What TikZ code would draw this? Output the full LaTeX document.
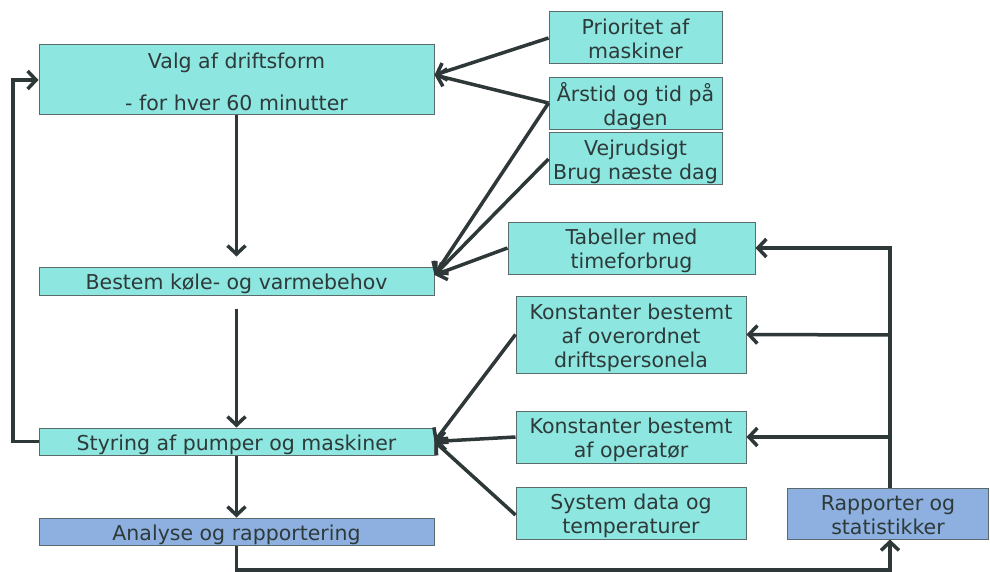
\documentclass[tikz,border=0pt]{standalone}
\usepackage{fontspec}
\setmainfont{DejaVu Sans}
\usetikzlibrary{arrows.meta}
\definecolor{teal1}{HTML}{8DE6DF}
\definecolor{blue1}{HTML}{8DB0E0}
\definecolor{bord}{HTML}{5B6B6B}
\definecolor{ink}{HTML}{2E3838}
\definecolor{txt}{HTML}{2E3A3A}
\newcommand{\lb}[1]{\raisebox{-4pt}[\height][\depth]{\begin{tabular}{@{}c@{}}#1\end{tabular}}}
\tikzset{
  box/.style={draw=bord, line width=1pt, fill=teal1, inner sep=0pt,
    text=txt, font=\fontsize{20.5}{24}\selectfont},
  bbox/.style={box, fill=blue1},
  lbl/.style={text=txt, font=\fontsize{20.5}{24}\selectfont, inner sep=0pt},
  conn/.style={draw=ink, line width=3.5pt, -{Straight Barb[length=8.5pt,width=18pt]}},
}
\begin{document}
\begin{tikzpicture}[x=1pt,y=-1pt]
\useasboundingbox (0,0) rectangle (990,572);
\fill[white] (0,0) rectangle (990,572);
% left column
\node[box, minimum width=395pt, minimum height=70pt] (valg) at (236.5,80) {};
\node[lbl] (valg1) at (236.5,63) {Valg af driftsform};
\node[lbl] (valg2) at (236.5,103) {- for hver 60 minutter};
\node[box, minimum width=395pt, minimum height=28pt] (bestem) at (236.5,281) {\lb{Bestem køle- og varmebehov}};
\node[box, minimum width=395pt, minimum height=27pt] (styr) at (236.5,441.5) {\lb{Styring af pumper og maskiner}};
\node[bbox, minimum width=395pt, minimum height=27pt] (anal) at (236.5,531.5) {\lb{Analyse og rapportering}};
% right column
\node[box, minimum width=173pt, minimum height=52pt] (prio) at (635.5,38) {\lb{Prioritet af\\maskiner}};
\node[box, minimum width=173pt, minimum height=52pt] (aar) at (635.5,104) {\lb{Årstid og tid på\\dagen}};
\node[box, minimum width=173pt, minimum height=52pt] (vejr) at (635.5,159) {\lb{Vejrudsigt\\Brug næste dag}};
\node[box, minimum width=247pt, minimum height=52pt] (tab) at (631.5,248) {\lb{Tabeller med\\timeforbrug}};
\node[box, minimum width=230pt, minimum height=77pt] (k1) at (631,334.5) {\lb{Konstanter bestemt\\af overordnet\\driftspersonela}};
\node[box, minimum width=230pt, minimum height=52pt] (k2) at (631,437) {\lb{Konstanter bestemt\\af operatør}};
\node[box, minimum width=230pt, minimum height=52pt] (sys) at (631,513) {\lb{System data og\\temperaturer}};
\node[bbox, minimum width=201pt, minimum height=51pt] (rap) at (888,513.5) {\lb{Rapporter og\\statistikker}};
% coordinates
\coordinate (vx) at (890,248);
\coordinate (vy1) at (890,335);
\coordinate (vy2) at (890,437);
\coordinate (bot1) at (236.5,570);
\coordinate (bot2) at (890,570);
\coordinate (lft1) at (13,441.5);
\coordinate (lft2) at (13,80);
\coordinate (valgin) at ([yshift=5pt]valg.east);
\coordinate (bestin) at ([yshift=6pt]bestem.east);
% vertical flow
\draw[conn, shorten >=10pt] (valg.south) -- (bestem.north);
\draw[conn, shorten <=13pt] (bestem.south) -- (styr.north);
\draw[conn] (styr.south) -- (anal.north);
% feedback
\draw[conn] (styr.west) -- (lft1) -- (lft2) -- (valg.west);
% inputs to valg
\draw[conn] (prio.west) -- (valgin);
\draw[conn] ([yshift=1pt]aar.west) -- (valgin);
% inputs to bestem
\draw[conn] ([yshift=1pt]aar.west) -- (bestin);
\draw[conn] (vejr.west) -- (bestin);
\draw[conn] (tab.west) -- (bestin);
% inputs to styring
\draw[conn] (k1.west) -- (styr.east);
\draw[conn] (k2.west) -- (styr.east);
\draw[conn] ([yshift=-2pt]sys.west) -- (styr.east);
% report loop
\draw[conn] (anal.south) -- (bot1) -- (bot2) -- (rap.south -| bot2);
\draw[conn] (rap.north -| vx) -- (vx) -- (tab.east);
\draw[conn] (vy1) -- (k1.east);
\draw[conn] (vy2) -- (k2.east);
\end{tikzpicture}
\end{document}
